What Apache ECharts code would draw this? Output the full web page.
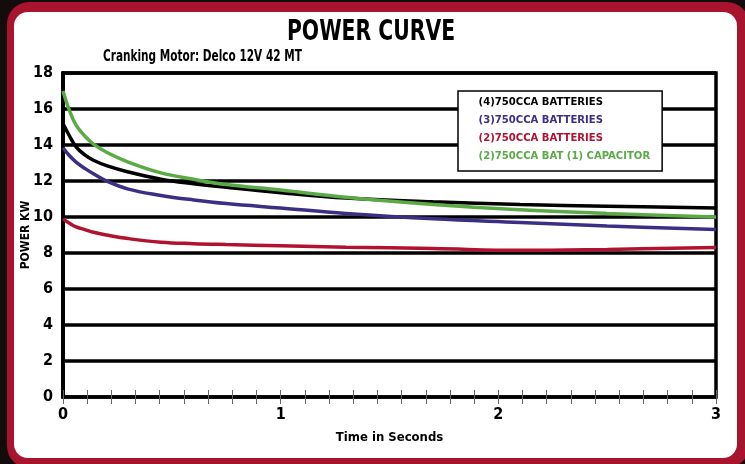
<!DOCTYPE html>
<html>
<head>
<meta charset="utf-8">
<script src="https://cdn.jsdelivr.net/npm/echarts@6/dist/echarts.min.js"></script>
<style>
  html, body { margin: 0; padding: 0; width: 745px; height: 464px; overflow: hidden; background: #140c0c; }
  #frame { position: absolute; left: 7px; top: 2px; right: -4px; bottom: -4px; background: #a8132e; border-radius: 22px; }
  #inner { position: absolute; left: 14px; top: 12px; right: 8px; bottom: 6px; background: #fff; border-radius: 14px; }
  #chart { position: absolute; left: 0; top: 0; width: 745px; height: 464px; }
</style>
</head>
<body>
<div id="frame"></div>
<div id="inner"></div>
<div id="chart"></div>
<script>
const seriesNames = ['(4)750CCA BATTERIES', '(3)750CCA BATTERIES', '(2)750CCA BATTERIES', '(2)750CCA BAT (1) CAPACITOR'];
const seriesColors = ['#000000', '#3b2f85', '#b0122f', '#5aab46'];
const timeSec = [0, 0.03, 0.06, 0.1, 0.14, 0.2, 0.3, 0.45, 0.6, 0.75, 1.0, 1.3, 1.7, 2.1, 2.5, 3.0];
const bat4 = [15.2, 14.5, 13.9, 13.45, 13.15, 12.85, 12.5, 12.1, 11.85, 11.65, 11.35, 11.05, 10.85, 10.7, 10.6, 10.5];
const bat3 = [13.85, 13.4, 13.05, 12.7, 12.4, 12.0, 11.55, 11.2, 10.95, 10.75, 10.5, 10.2, 9.9, 9.7, 9.5, 9.3];
const bat2 = [9.9, 9.65, 9.45, 9.3, 9.15, 9.0, 8.8, 8.6, 8.52, 8.47, 8.4, 8.32, 8.25, 8.15, 8.2, 8.3];
const bat2cap = [17.0, 15.9, 15.1, 14.5, 14.05, 13.6, 13.05, 12.45, 12.1, 11.8, 11.5, 11.1, 10.7, 10.4, 10.2, 10.0];
const yTicks = [0, 2, 4, 6, 8, 10, 12, 14, 16, 18];
const xTicks = [0, 1, 2, 3];

const FONT = '"Liberation Sans Narrow", "DejaVu Sans Condensed", sans-serif';
const seriesValues = [bat4, bat3, bat2, bat2cap];

const chart = echarts.init(document.getElementById('chart'), null, { renderer: 'canvas' });
chart.setOption({
  animation: false,
  backgroundColor: 'transparent',
  textStyle: { fontFamily: FONT },
  graphic: [
    { type: 'text', x: 371, y: 32, scaleX: 0.78, z: 10,
      style: { text: 'POWER CURVE', fontFamily: FONT, fontWeight: 'bold', fontSize: 29,
        fill: '#000', textAlign: 'center', textVerticalAlign: 'middle' } },
    { type: 'text', x: 103, y: 57, scaleX: 0.78, z: 10,
      style: { text: 'Cranking Motor: Delco 12V 42 MT', fontFamily: FONT, fontWeight: 'bold', fontSize: 15,
        fill: '#000', textAlign: 'left', textVerticalAlign: 'middle' } }
  ],
  legend: {
    orient: 'vertical', left: 458, top: 91,
    padding: [4, 12, 8, 10], itemGap: 4, itemWidth: 0, itemHeight: 14,
    backgroundColor: '#fff', borderColor: '#000', borderWidth: 1.5,
    itemStyle: { opacity: 0 }, lineStyle: { opacity: 0 },
    selectedMode: false,
    data: seriesNames.map((n, i) => ({ name: n, textStyle: { color: seriesColors[i] } })),
    textStyle: { fontFamily: FONT, fontWeight: 'bold', fontSize: 11.2, lineHeight: 14 }
  },
  grid: { left: 63, right: 29, top: 73, bottom: 67, show: true, borderColor: '#000', borderWidth: 3.5, backgroundColor: '#fff' },
  xAxis: {
    type: 'value', min: 0, max: 3, interval: 1, offset: -7,
    name: 'Time in Seconds', nameLocation: 'middle', nameGap: 41,
    nameTextStyle: { fontFamily: FONT, fontWeight: 'bold', fontSize: 13, color: '#000' },
    axisLine: { show: false },
    axisTick: { show: true, length: 14, lineStyle: { color: '#666', width: 1 } },
    minorTick: { show: true, splitNumber: 9, length: 14, lineStyle: { color: '#666', width: 1 } },
    splitLine: { show: false },
    axisLabel: { margin: 17, fontFamily: FONT, fontWeight: 'bold', fontSize: 16, color: '#000',
      customValues: xTicks, formatter: v => String(v) }
  },
  yAxis: {
    type: 'value', min: 0, max: 18, interval: 2,
    name: 'POWER KW', nameLocation: 'middle', nameGap: 31, nameRotate: 90, nameMoveOverlap: false,
    nameTextStyle: { fontFamily: FONT, fontWeight: 'bold', fontSize: 12, color: '#000' },
    axisLine: { show: true, lineStyle: { color: '#000', width: 4 } },
    axisTick: { show: false },
    splitLine: { show: true, lineStyle: { color: '#000', width: 3.5 } },
    axisLabel: { margin: 10, fontFamily: FONT, fontWeight: 'bold', fontSize: 16, color: '#000',
      formatter: v => yTicks.includes(v) ? String(v) : '' }
  },
  series: seriesNames.map((n, i) => ({
    name: n, type: 'line', smooth: 0.4, showSymbol: false, symbol: 'none',
    lineStyle: { color: seriesColors[i], width: 3.5 },
    itemStyle: { color: seriesColors[i] },
    data: timeSec.map((t, k) => [t, seriesValues[i][k]])
  }))
});
</script>
</body>
</html>
